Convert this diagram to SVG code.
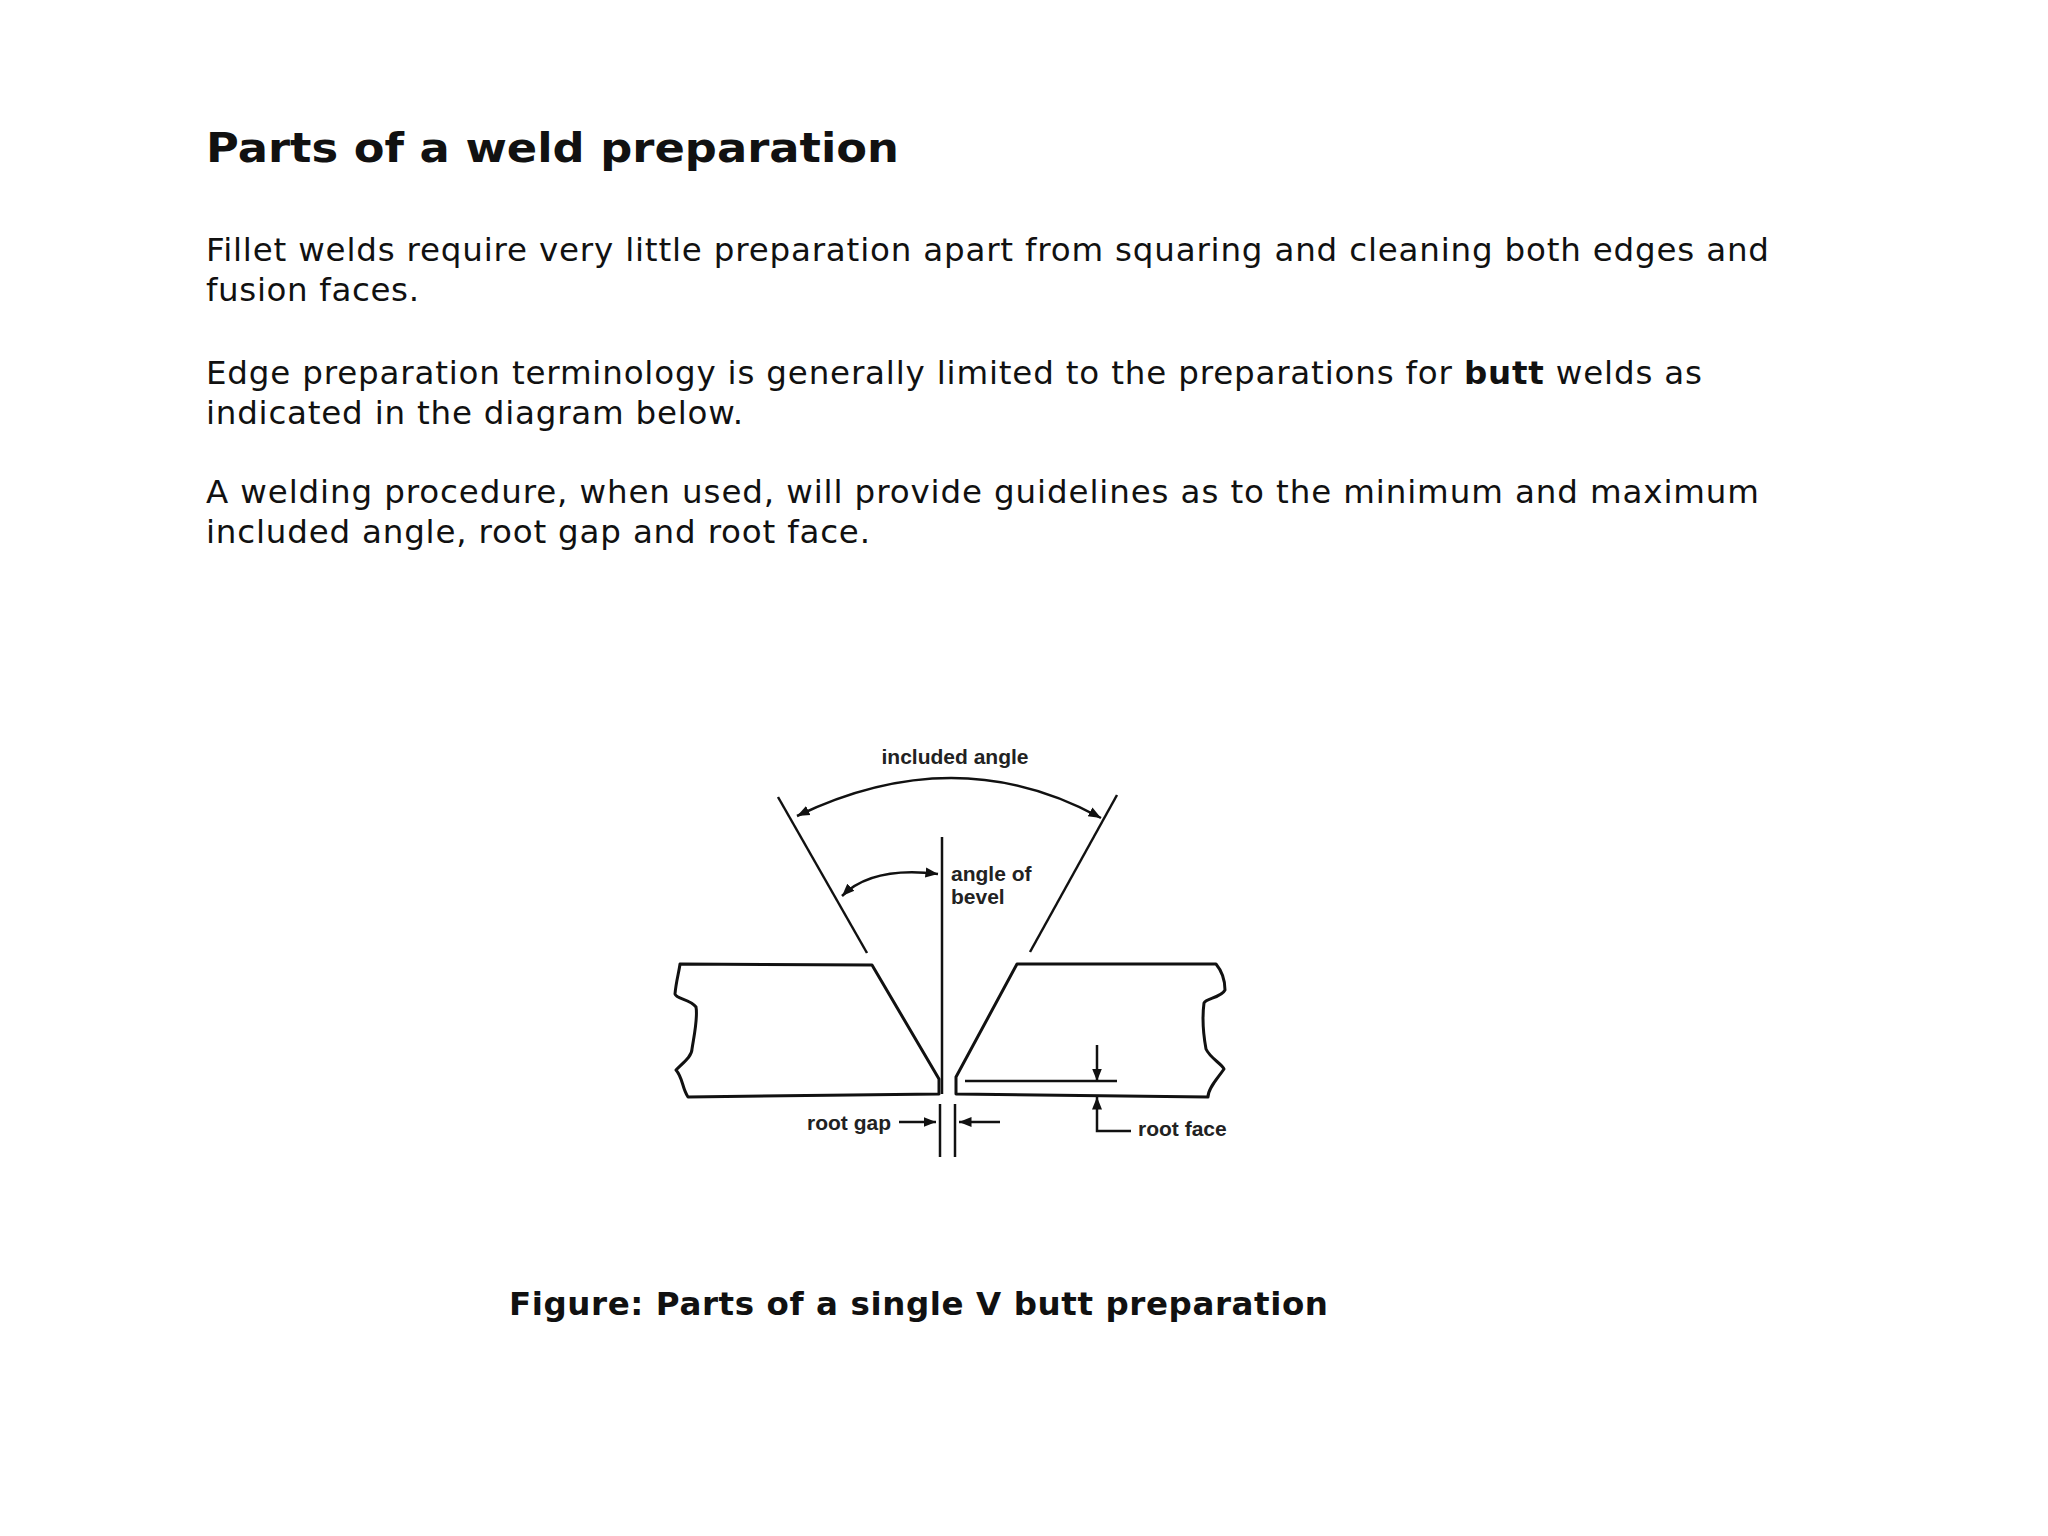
<svg xmlns="http://www.w3.org/2000/svg" width="2048" height="1536" viewBox="0 0 2048 1536">
<style>
.t{font-family:"DejaVu Sans",Verdana,sans-serif;font-size:32.5px;fill:#111}
.h{font-family:"DejaVu Sans",Verdana,sans-serif;font-size:41px;font-weight:bold;fill:#111}
.l{font-family:"Liberation Sans",Arial,sans-serif;font-size:21px;font-weight:bold;fill:#222}
.s{fill:none;stroke:#111;stroke-width:2.5}
.p{fill:none;stroke:#111;stroke-width:3;stroke-linejoin:round}
</style>
<defs>
<marker id="a" viewBox="0 0 10 10" refX="10" refY="5" markerWidth="5" markerHeight="5" orient="auto-start-reverse" markerUnits="strokeWidth"><path d="M0,1 L10,5 L0,9 Z" fill="#111"/></marker>
</defs>
<rect width="2048" height="1536" fill="#fff"/>
<text class="h" x="206" y="162" textLength="693" lengthAdjust="spacingAndGlyphs">Parts of a weld preparation</text>
<text class="t" x="206" y="261" textLength="1563">Fillet welds require very little preparation apart from squaring and cleaning both edges and</text>
<text class="t" x="206" y="301" textLength="213">fusion faces.</text>
<text class="t" x="206" y="384" textLength="1496">Edge preparation terminology is generally limited to the preparations for <tspan font-weight="bold">butt</tspan> welds as</text>
<text class="t" x="206" y="424" textLength="537">indicated in the diagram below.</text>
<text class="t" x="206" y="503" textLength="1553">A welding procedure, when used, will provide guidelines as to the minimum and maximum</text>
<text class="t" x="206" y="543" textLength="664">included angle, root gap and root face.</text>
<g id="left-plate"><path class="p" d="M680,964 L872,965 L939,1079 L939,1094 L688,1097 C682,1088 683,1078 676,1070 C684,1062 692,1056 692,1049 C694,1036 698,1018 696,1007 C690,999 676,999 675,994 C676,982 679,972 680,964 Z"/></g>
<g id="right-plate"><path class="p" d="M1017,964 L1216,964 C1221,970 1225,980 1225,990 C1221,998 1206,998 1204,1003 C1202,1018 1204,1038 1206,1049 C1210,1058 1222,1064 1224,1069 C1218,1078 1208,1088 1208,1097 L956,1094 L956,1077 Z"/></g>
<g id="connectors">
<line class="s" x1="778" y1="797" x2="867" y2="953"/>
<line class="s" x1="1117" y1="795" x2="1030" y2="952"/>
<line class="s" x1="942" y1="837" x2="942" y2="1094"/>
<path class="s" d="M797,816 Q957,739 1101,818" marker-start="url(#a)" marker-end="url(#a)"/>
<path class="s" d="M842,896 Q872,866 938,874" marker-start="url(#a)" marker-end="url(#a)"/>
<line class="s" x1="965" y1="1081" x2="1117" y2="1081"/>
<line class="s" x1="1097" y1="1045" x2="1097" y2="1081" marker-end="url(#a)"/>
<path class="s" d="M1131,1131 L1097,1131 L1097,1097" marker-end="url(#a)"/>
<line class="s" x1="940" y1="1104" x2="940" y2="1157"/>
<line class="s" x1="955" y1="1104" x2="955" y2="1157"/>
<line class="s" x1="899" y1="1122" x2="936" y2="1122" marker-end="url(#a)"/>
<line class="s" x1="1000" y1="1122" x2="959" y2="1122" marker-end="url(#a)"/>
</g>
<text class="l" x="955" y="764" text-anchor="middle">included angle</text>
<text class="l" x="951" y="881">angle of</text>
<text class="l" x="951" y="904">bevel</text>
<text class="l" x="891" y="1130" text-anchor="end">root gap</text>
<text class="l" x="1138" y="1136">root face</text>
<text class="t" x="509" y="1315" font-weight="bold" textLength="819">Figure: Parts of a single V butt preparation</text>
</svg>
